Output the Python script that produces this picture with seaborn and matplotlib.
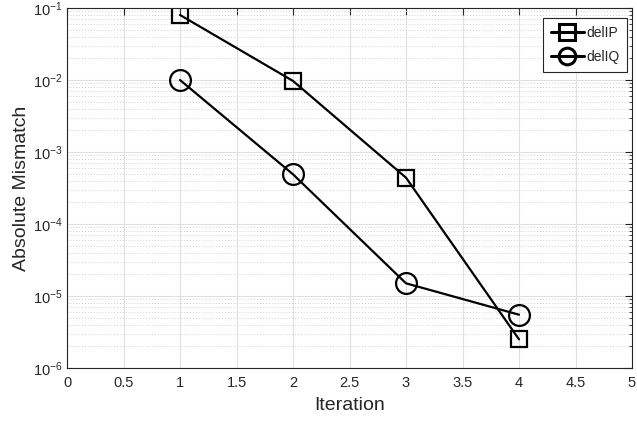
import matplotlib
matplotlib.use("Agg")
import matplotlib.pyplot as plt
import seaborn as sns
import numpy as np
import pandas as pd
from matplotlib.ticker import LogLocator, MultipleLocator, NullFormatter

iterations = [1, 2, 3, 4]
delIP = [0.08, 0.0097, 4.4e-4, 2.5e-6]
delIQ = [0.01, 4.9e-4, 1.5e-5, 5.5e-6]
xticks = [0, 0.5, 1, 1.5, 2, 2.5, 3, 3.5, 4, 4.5, 5]
xticklabels = ["0", "0.5", "1", "1.5", "2", "2.5", "3", "3.5", "4", "4.5", "5"]

sns.set_style("white")
plt.rcParams['font.family'] = ['Liberation Sans', 'DejaVu Sans']
plt.rcParams['mathtext.fontset'] = 'custom'
plt.rcParams['mathtext.rm'] = 'Liberation Sans'

fig = plt.figure(figsize=(6.37, 4.26), dpi=100)
ax = fig.add_axes([67/637, 58/426, 565/637, 360/426])

axc = '0.15'
sns.lineplot(x=iterations, y=delIP, ax=ax, color='black', lw=1.6, marker='s',
             markersize=12, markerfacecolor='none', markeredgecolor='black',
             markeredgewidth=1.6, label='delIP')
sns.lineplot(x=iterations, y=delIQ, ax=ax, color='black', lw=1.6, marker='o',
             markersize=15, markerfacecolor='none', markeredgecolor='black',
             markeredgewidth=1.6, label='delIQ')

ax.set_yscale('log')
ax.set_xlim(0, 5)
ax.set_ylim(1e-6, 1e-1)
ax.set_xticks(xticks)
ax.set_xticklabels(xticklabels)
ax.yaxis.set_major_locator(LogLocator(base=10, numticks=10))
ax.yaxis.set_minor_locator(LogLocator(base=10, subs=np.arange(2, 10), numticks=20))
ax.yaxis.set_minor_formatter(NullFormatter())

ax.grid(True, which='major', color='0.88', lw=0.8, ls='-')
ax.grid(True, which='minor', axis='y', color='0.82', lw=0.7, ls=(0, (1, 2)))
ax.set_axisbelow(True)

ax.tick_params(which='both', direction='in', top=True, right=True, colors=axc,
               labelcolor='0.15', labelsize=10.5)
ax.tick_params(axis='x', which='major', pad=6)
ax.tick_params(axis='y', which='major', pad=3)
ax.tick_params(which='major', length=5, width=0.8)
ax.tick_params(which='minor', length=2.5, width=0.6)
for s in ax.spines.values():
    s.set_color(axc)
    s.set_linewidth(0.8)

ax.set_xlabel('Iteration', fontsize=14, color='0.15', labelpad=5)
ax.set_ylabel('Absolute Mismatch', fontsize=14, color='0.15', labelpad=2.5)

leg = ax.legend(loc='upper right', bbox_to_anchor=(0.991, 0.972), fontsize=10,
                frameon=True, fancybox=False, edgecolor=axc, framealpha=1,
                handlelength=2.4, handletextpad=0.15, borderpad=0.55,
                labelspacing=0.75, borderaxespad=0.0)
leg.get_frame().set_linewidth(0.8)
for h, ms in zip(leg.legend_handles, [11, 12]):
    h.set_markersize(ms)
    h.set_markeredgewidth(2.2)
    h.set_linewidth(2.2)

fig.savefig('out.png', dpi=100)
